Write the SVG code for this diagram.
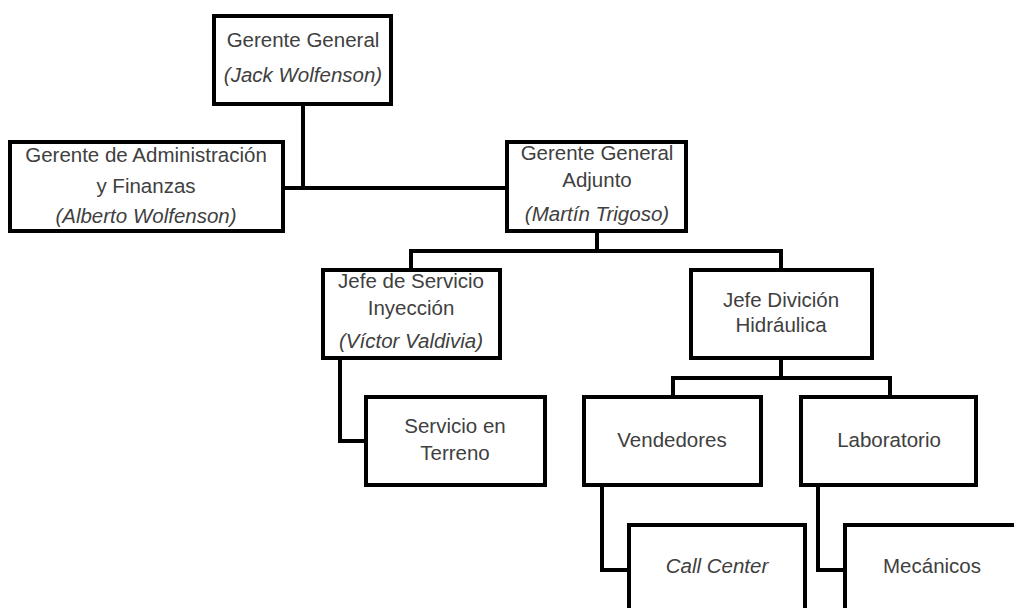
<svg xmlns="http://www.w3.org/2000/svg" width="1014" height="608" viewBox="0 0 1014 608">
<style>
.box{fill:#fff;stroke:#000;stroke-width:4}
.ln{fill:none;stroke:#000;stroke-width:4;stroke-linejoin:miter}
text{font-family:"Liberation Sans",Arial,sans-serif;font-size:20.5px;fill:#404040;text-anchor:middle}
.it{font-style:italic}
</style>
<rect width="1014" height="608" fill="#fff"/>
<g id="connectors">
<path class="ln" d="M303 104V188"/>
<path class="ln" d="M283 188H507"/>
<path class="ln" d="M597 231V251"/>
<path class="ln" d="M411 270V251H781V270"/>
<path class="ln" d="M340 358V441H366"/>
<path class="ln" d="M781 358V378"/>
<path class="ln" d="M673 397V378H890V397"/>
<path class="ln" d="M602 485V570H629"/>
<path class="ln" d="M818 485V570H845"/>
</g>
<g id="gerente-general">
<rect class="box" x="214" y="16" width="177" height="88"/>
<text x="303" y="47">Gerente General</text>
<text class="it" x="303" y="82">(Jack Wolfenson)</text>
</g>
<g id="gerente-admin">
<rect class="box" x="10" y="142" width="273" height="89"/>
<text x="146" y="162">Gerente de Administración</text>
<text x="146" y="193">y Finanzas</text>
<text class="it" x="146" y="223">(Alberto Wolfenson)</text>
</g>
<g id="gerente-adjunto">
<rect class="box" x="507" y="142" width="179" height="89"/>
<text x="597" y="160">Gerente General</text>
<text x="597" y="187">Adjunto</text>
<text class="it" x="597" y="221">(Martín Trigoso)</text>
</g>
<g id="jefe-servicio">
<rect class="box" x="323" y="270" width="177" height="88"/>
<text x="411" y="288">Jefe de Servicio</text>
<text x="411" y="315">Inyección</text>
<text class="it" x="411" y="348">(Víctor Valdivia)</text>
</g>
<g id="jefe-division">
<rect class="box" x="691" y="270" width="181" height="88"/>
<text x="781" y="307">Jefe Divición</text>
<text x="781" y="332">Hidráulica</text>
</g>
<g id="servicio-terreno">
<rect class="box" x="366" y="397" width="179" height="88"/>
<text x="455" y="433">Servicio en</text>
<text x="455" y="460">Terreno</text>
</g>
<g id="vendedores">
<rect class="box" x="584" y="397" width="177" height="88"/>
<text x="672" y="447">Vendedores</text>
</g>
<g id="laboratorio">
<rect class="box" x="801" y="397" width="175" height="88"/>
<text x="889" y="447">Laboratorio</text>
</g>
<g id="call-center">
<rect class="box" x="629" y="525" width="176" height="88"/>
<text class="it" x="717" y="573">Call Center</text>
</g>
<g id="mecanicos">
<rect class="box" x="845" y="525" width="180" height="88"/>
<text x="932" y="573">Mecánicos</text>
</g>
</svg>
